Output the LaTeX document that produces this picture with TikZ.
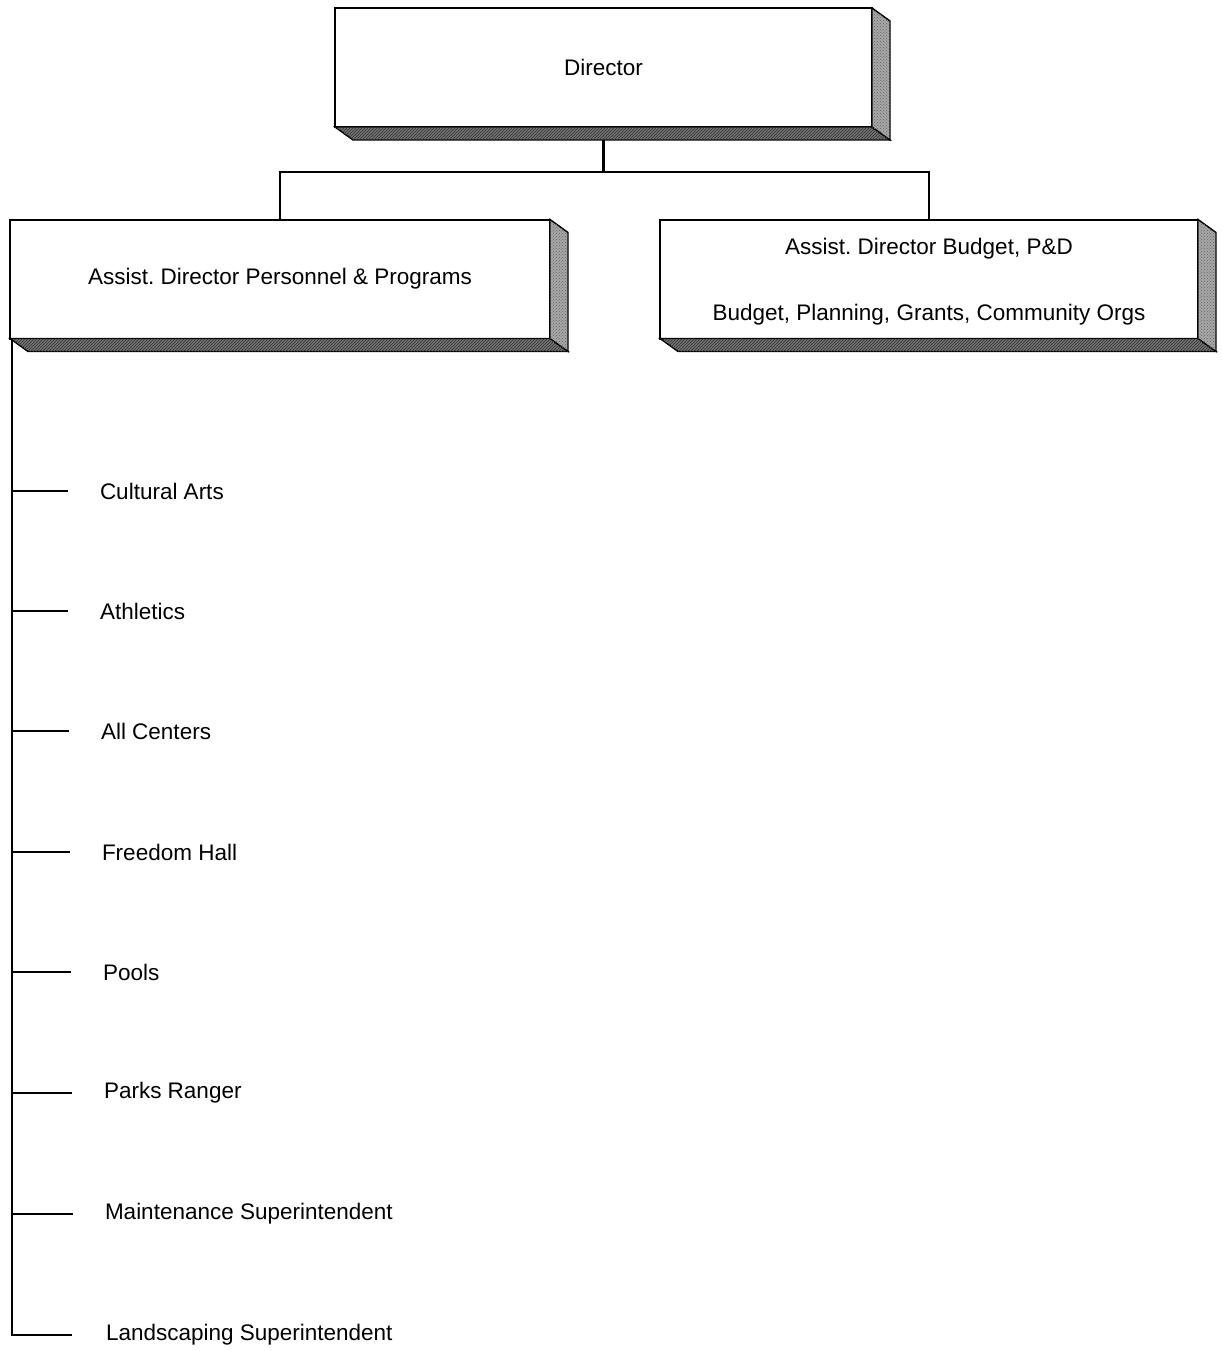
\documentclass[tikz,border=0pt]{standalone}
\usepackage{fontspec}
\setmainfont{Liberation Sans}
\usetikzlibrary{patterns}
\frenchspacing
\begin{document}
\begin{tikzpicture}[x=1pt,y=-1pt,
  box/.style={draw,line width=2pt,fill=white,inner sep=0pt,outer sep=0pt,minimum height=119pt,font=\fontsize{22.5}{26}\selectfont,align=center},
  conn/.style={line width=2.2pt},
  item/.style={anchor=west,inner sep=0pt,outer sep=0pt,font=\fontsize{22.5}{26}\selectfont},
  shadeB/.style={fill=black!55,draw=black,line width=1.4pt},
  shadeR/.style={fill=black!35,draw=black,line width=1.4pt}]
\useasboundingbox (0,0) rectangle (1221,1351);
\coordinate (jn) at (605,172);
\node[box,minimum width=537pt] (dir) at (603.5,67.5) {Director};
\node[box,minimum width=540pt] (left) at (280,279) {Assist. Director Personnel \& Programs};
\node[box,minimum width=538pt] (right) at (929,279) {\rule{0pt}{22.5pt}Assist. Director Budget, P\&D\\[40pt]Budget, Planning, Grants, Community Orgs};
\draw[conn] (dir.south) -- (dir.south |- jn) -| (left.north);
\draw[conn] (dir.south |- jn) -| (right.north);
\foreach \n in {dir,left,right}{
  \filldraw[shadeB] (\n.south west) -- ([shift={(18,13)}]\n.south west) -- ([shift={(18,13)}]\n.south east) -- (\n.south east) -- cycle;
  \filldraw[shadeR] (\n.north east) -- ([shift={(18,13)}]\n.north east) -- ([shift={(18,13)}]\n.south east) -- (\n.south east) -- cycle;
  \fill[pattern=north east lines,pattern color=black!80] (\n.south west) -- ([shift={(18,13)}]\n.south west) -- ([shift={(18,13)}]\n.south east) -- (\n.south east) -- cycle;
  \fill[pattern=crosshatch dots,pattern color=black!60] (\n.north east) -- ([shift={(18,13)}]\n.north east) -- ([shift={(18,13)}]\n.south east) -- (\n.south east) -- cycle;
}
\node[item] (t1) at (100,491) {Cultural Arts};
\node[item] (t2) at (100,611) {Athletics};
\node[item] (t3) at (101,731) {All Centers};
\node[item] (t4) at (102,852) {Freedom Hall};
\node[item] (t5) at (103,972) {Pools};
\node[item] (t6) at (104,1093) {Parks Ranger};
\node[item] (t7) at (105,1214) {Maintenance Superintendent};
\node[item] (t8) at (106,1335) {Landscaping Superintendent};
\coordinate (sp) at ([xshift=2pt]left.south west);
\draw[conn] (sp) |- ([xshift=-34pt]t8.west);
\foreach \t in {t1,t2,t3,t4,t5,t6,t7}{
  \draw[conn] (sp |- \t.west) -- ([xshift=-32pt]\t.west);
}
\end{tikzpicture}
\end{document}
